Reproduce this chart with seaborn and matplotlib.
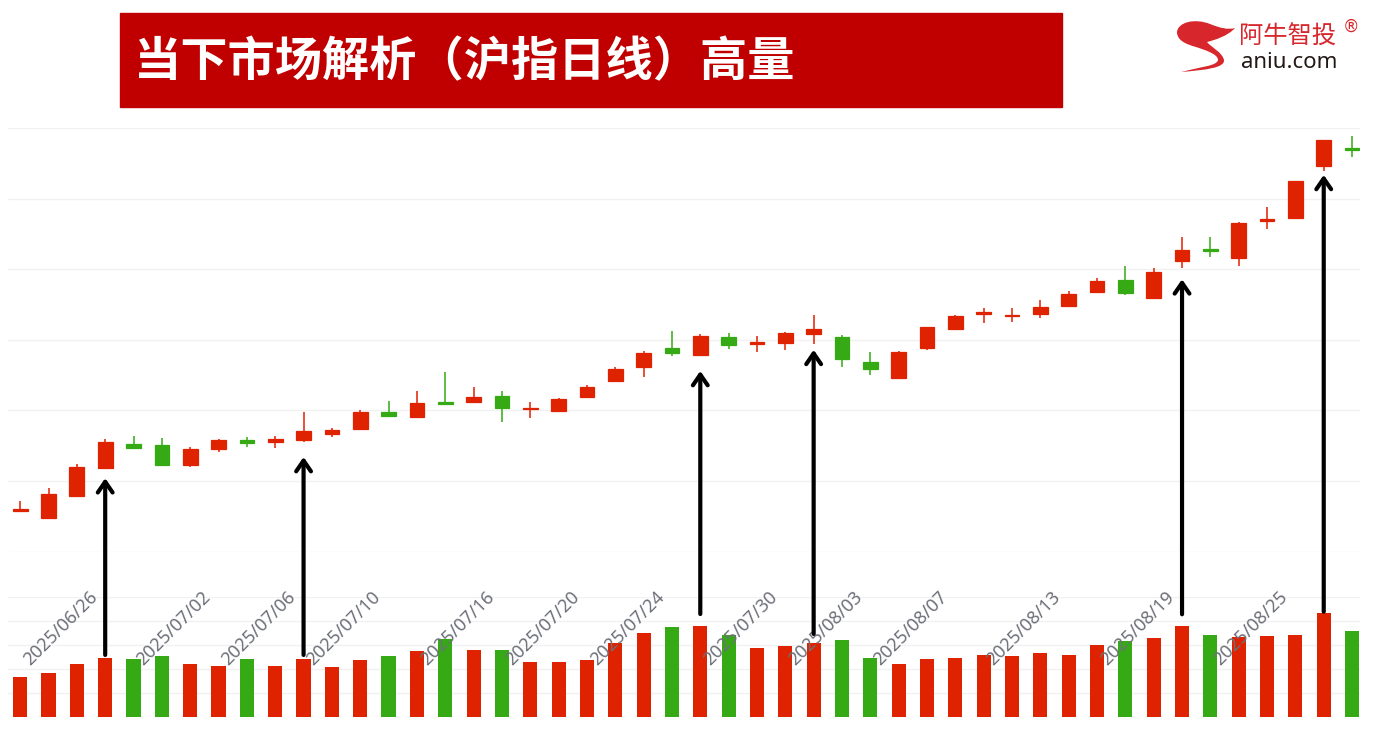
import numpy as np
import pandas as pd
import matplotlib
matplotlib.use('Agg')
import matplotlib.pyplot as plt
import seaborn as sns
import matplotlib.transforms as mtransforms
from matplotlib.patches import Rectangle, PathPatch, ConnectionPatch
from matplotlib.path import Path

# ---------------- data ----------------
opens = [3358.0, 3348.0, 3379.2, 3418.4, 3452.0, 3450.6, 3422.7, 3445.4, 3457.7, 3455.3,
         3458.1, 3466.6, 3473.7, 3498.2, 3490.7, 3511.5, 3512.0, 3520.1, 3502.1, 3499.2,
         3519.1, 3541.7, 3561.6, 3588.5, 3578.2, 3604.5, 3594.2, 3595.2, 3607.9, 3604.5,
         3568.2, 3545.6, 3588.1, 3615.0, 3636.3, 3633.4, 3636.3, 3647.6, 3667.5, 3684.9,
         3659.0, 3711.4, 3728.8, 3715.7, 3768.9, 3772.3, 3846.9, 3871.6]
closes = [3359.9, 3381.1, 3420.3, 3455.7, 3446.8, 3422.7, 3444.9, 3457.7, 3454.3, 3460.0,
          3471.3, 3472.7, 3497.4, 3492.1, 3510.1, 3508.7, 3519.5, 3503.5, 3503.9, 3516.7,
          3533.7, 3559.2, 3581.9, 3581.0, 3606.0, 3592.3, 3597.4, 3610.2, 3615.9, 3572.5,
          3558.3, 3583.3, 3617.9, 3634.3, 3639.5, 3635.7, 3646.6, 3665.1, 3683.5, 3666.0,
          3696.2, 3727.4, 3726.4, 3765.7, 3771.4, 3825.2, 3883.3, 3868.7]
highs = [3371.7, 3389.7, 3423.7, 3459.1, 3463.4, 3461.4, 3447.8, 3459.1, 3461.9, 3463.4,
         3497.4, 3475.1, 3500.2, 3513.0, 3527.1, 3554.9, 3532.8, 3527.1, 3511.5, 3517.6,
         3535.6, 3561.2, 3584.7, 3613.0, 3608.8, 3610.2, 3606.0, 3611.6, 3635.7, 3606.9,
         3582.4, 3583.8, 3618.4, 3634.8, 3645.6, 3645.6, 3657.0, 3669.3, 3687.3, 3704.7,
         3701.9, 3745.8, 3745.8, 3767.1, 3788.8, 3825.8, 3883.8, 3888.6]
lows = [3357.0, 3347.4, 3378.7, 3416.6, 3446.5, 3421.3, 3419.8, 3441.1, 3448.2, 3446.3,
        3454.9, 3462.8, 3472.7, 3491.8, 3490.4, 3507.3, 3511.4, 3483.2, 3488.9, 3498.9,
        3518.8, 3541.4, 3547.0, 3577.6, 3576.8, 3586.7, 3582.4, 3586.1, 3593.8, 3562.0,
        3549.8, 3545.3, 3585.7, 3614.7, 3623.5, 3625.8, 3630.6, 3647.3, 3667.2, 3663.2,
        3658.7, 3702.3, 3717.9, 3705.2, 3757.6, 3772.0, 3839.8, 3859.2]
volumes = [336, 369, 442, 494, 483, 511, 442, 425, 483, 425,
           486, 417, 478, 511, 553, 653, 558, 558, 461, 461,
           478, 619, 703, 750, 760, 683, 578, 592, 619, 642,
           492, 442, 483, 492, 517, 508, 536, 517, 600, 636,
           661, 758, 683, 669, 675, 683, 869, 717]

tick_idx = [3, 7, 10, 13, 17, 20, 23, 27, 30, 33, 37, 41, 45]
tick_labels = ['2025/06/26', '2025/07/02', '2025/07/06', '2025/07/10', '2025/07/16',
               '2025/07/20', '2025/07/24', '2025/07/30', '2025/08/03', '2025/08/07',
               '2025/08/13', '2025/08/19', '2025/08/25']

arrow_idx = [3, 10, 24, 28, 41, 46]
arrow_base_vol = [517, 517, 858, 692, 856, 877]
arrow_tip_price = [3404, 3434, 3556, 3586, 3686, 3834]

title = '当下市场解析（沪指日线）高量'
logo_cn = '阿牛智投'
logo_en = 'aniu.com'

RED = '#DF2200'
GREEN = '#35AA15'

# ---------------- figure ----------------
W, H = 1389, 732
sns.set_theme(style='white')
plt.rcParams['font.family'] = ['Noto Sans CJK SC', 'DejaVu Sans']

fig = plt.figure(figsize=(W / 100, H / 100), dpi=100)
fig.patch.set_facecolor('white')


def fx(x):
    return x / W


def fy(y):
    return 1 - y / H


axp = fig.add_axes([fx(8), fy(551.5), fx(1360) - fx(8), fy(128.3) - fy(551.5)])
axv = fig.add_axes([fx(8), fy(717), fx(1360) - fx(8), fy(597) - fy(717)])

n = len(opens)
xs = np.arange(n)
o = np.array(opens)
c = np.array(closes)
hi = np.array(highs)
lo = np.array(lows)
up = c >= o
cols = np.where(up, RED, GREEN)

# candles
axp.vlines(xs, lo, hi, colors=cols, lw=1.1, zorder=2)
axp.bar(xs, np.abs(c - o), bottom=np.minimum(o, c), width=0.52, color=cols,
        edgecolor=cols, linewidth=0.9, zorder=3)
axp.set_ylim(3300, 3900)
axp.set_yticks(np.arange(3300, 3901, 100))
axp.set_xlim(-0.43, 47.28)

# volume
vdf = pd.DataFrame({'x': xs, 'vol': volumes, 'dir': np.where(up, 'up', 'down')})
sns.barplot(data=vdf, x='x', y='vol', hue='dir', palette={'up': RED, 'down': GREEN},
            native_scale=True, width=0.5, saturation=1, legend=False, dodge=False,
            errorbar=None, linewidth=0, ax=axv, zorder=3)
axv.set_ylim(0, 1000)
axv.set_yticks(np.arange(0, 1001, 200))
axv.set_xlim(-0.43, 47.28)

for ax in (axp, axv):
    ax.set_facecolor('white')
    ax.grid(axis='y', color='#F1F1F1', lw=1, zorder=0)
    ax.grid(axis='x', visible=False)
    ax.set_axisbelow(True)
    for s in ax.spines.values():
        s.set_visible(False)
    ax.set_xticks([])
    ax.tick_params(left=False, labelleft=False, bottom=False, labelbottom=False)
    ax.set_xlabel('')
    ax.set_ylabel('')

# date labels
trans = mtransforms.blended_transform_factory(axp.transData, fig.transFigure)
trans = mtransforms.offset_copy(trans, fig=fig, x=-17, y=0, units='dots')
for i, lab in zip(tick_idx, tick_labels):
    fig.text(i, fy(588), lab, transform=trans, rotation=45, rotation_mode='anchor',
             ha='right', va='top', fontsize=13, color='#6E7079',
             family=['Noto Sans', 'DejaVu Sans'], zorder=5)

# arrows
for i, b, t in zip(arrow_idx, arrow_base_vol, arrow_tip_price):
    cp = ConnectionPatch(xyA=(i, b), coordsA=axv.transData, xyB=(i, t), coordsB=axp.transData,
                         arrowstyle='->,head_length=0.55,head_width=0.38', lw=3.0,
                         color='black', mutation_scale=14, shrinkA=0, shrinkB=0, zorder=10)
    fig.add_artist(cp)

# title banner
fig.add_artist(Rectangle((fx(120), fy(107)), fx(1062) - fx(120), fy(13) - fy(107),
                         transform=fig.transFigure, color='#C00000', zorder=1))
fig.text(fx(134), fy(62), title, color='white', fontsize=34, fontweight='bold',
         ha='left', va='center', family=['Noto Sans CJK SC'], zorder=2)

# logo
LOGO_RED = '#D7262C'
pts = [(1177, 32),
       (1178, 22), (1195, 18), (1210, 24),
       (1220, 28), (1228, 30), (1235, 28),
       (1228, 36), (1215, 40), (1207, 42),
       (1212, 48), (1222, 52), (1224, 60),
       (1225, 68), (1205, 70), (1181, 72),
       (1200, 67), (1217, 66), (1218, 60),
       (1218, 54), (1205, 50), (1196, 47),
       (1185, 44), (1177, 40), (1177, 32),
       (1177, 32)]
codes = [Path.MOVETO] + [Path.CURVE4] * 24 + [Path.CLOSEPOLY]
verts = [(fx(px), fy(py)) for px, py in pts]
fig.add_artist(PathPatch(Path(verts, codes), transform=fig.transFigure,
                         facecolor=LOGO_RED, edgecolor='none', zorder=2))
fig.text(fx(1239), fy(37), logo_cn, color=LOGO_RED, fontsize=17.5, ha='left', va='center',
         family=['Noto Sans CJK SC'], fontweight='medium', zorder=2)
fig.text(fx(1343), fy(27), '®', color=LOGO_RED, fontsize=12, ha='left', va='center',
         family=['DejaVu Sans'], zorder=2)
fig.text(fx(1241), fy(63), logo_en, color='#231815', fontsize=16, ha='left', va='center',
         family=['Noto Sans', 'DejaVu Sans'], zorder=2)

fig.savefig('out.png', dpi=100, facecolor='white')
